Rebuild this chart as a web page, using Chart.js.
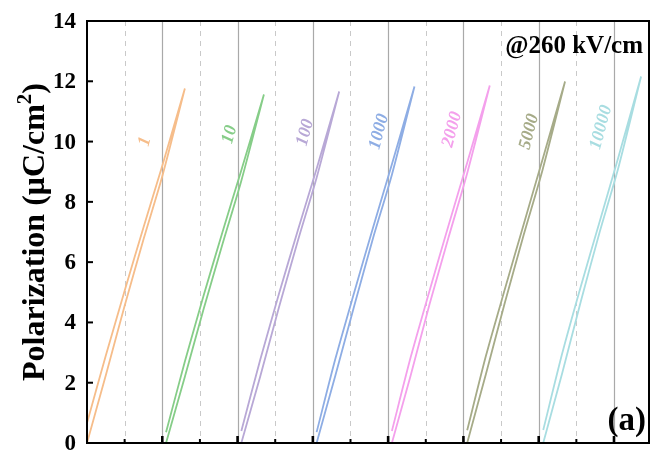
<!DOCTYPE html>
<html>
<head>
<meta charset="utf-8">
<script src="https://cdn.jsdelivr.net/npm/chart.js@4.4.1/dist/chart.umd.min.js"></script>
<style>
  html, body { margin: 0; padding: 0; background: #fff; }
  #wrap { width: 652px; height: 453px; }
</style>
</head>
<body>
<div id="wrap"><canvas id="c" width="652" height="453"></canvas></div>
<script>
// Frequencies (Hz) of the unipolar P-E loops, all measured at 260 kV/cm
const frequencies = ['1', '10', '100', '1000', '2000', '5000', '10000'];
// Horizontal shift (kV/cm) applied to each loop so they sit side by side
const loopShift = [0, 210, 410, 610, 810, 1010, 1212];
// Field points of the charging (rising) and discharging (falling) branches, kV/cm
const fieldUp = [0, 50, 100, 150, 200, 260];
const fieldDown = [260, 200, 150, 100, 50, 0];
// Polarization (uC/cm2) on the rising branch
const polUp = [
  [0, 2.25, 4.55, 6.75, 8.85, 11.76],
  [0, 2.20, 4.45, 6.60, 8.70, 11.56],
  [0, 2.20, 4.50, 6.70, 8.80, 11.66],
  [0, 2.25, 4.55, 6.80, 8.90, 11.83],
  [0, 2.25, 4.60, 6.80, 8.95, 11.86],
  [0, 2.30, 4.65, 6.90, 9.05, 11.99],
  [0, 2.30, 4.70, 7.00, 9.15, 12.16]
];
// Polarization (uC/cm2) on the falling branch
const polDown = [
  [11.76, 9.20, 7.15, 5.05, 2.90, 0.66],
  [11.56, 9.05, 7.00, 4.90, 2.70, 0.36],
  [11.66, 9.10, 7.05, 4.95, 2.75, 0.40],
  [11.83, 9.25, 7.15, 5.00, 2.80, 0.36],
  [11.86, 9.30, 7.20, 5.05, 2.85, 0.40],
  [11.99, 9.40, 7.25, 5.10, 2.90, 0.42],
  [12.16, 9.50, 7.35, 5.20, 2.95, 0.43]
];
// Where each frequency label is written (axis units)
const labelX = [154, 379, 580, 776, 970, 1175, 1366];
const labelY = [10.0, 10.23, 10.3, 10.33, 10.4, 10.33, 10.47];
const yTicks = [0, 2, 4, 6, 8, 10, 12, 14];
const loopColors = ['#F6BD8A', '#86CD88', '#B8A8D6', '#8EADE4', '#F4A0EC', '#A6AB88', '#A8DDE1'];

const SERIF = '"Liberation Serif", "Times New Roman", serif';

const datasets = frequencies.map((f, i) => {
  const pts = [];
  fieldUp.forEach((e, j) => pts.push({ x: loopShift[i] + e, y: polUp[i][j] }));
  fieldDown.forEach((e, j) => pts.push({ x: loopShift[i] + e, y: polDown[i][j] }));
  return {
    label: f + ' Hz',
    data: pts,
    showLine: true,
    borderColor: loopColors[i],
    borderWidth: 1.8,
    pointRadius: 0,
    tension: 0.25,
    fill: false
  };
});

const decor = {
  id: 'decor',
  beforeDatasetsDraw(chart) {
    const { ctx, chartArea: a, scales: { x } } = chart;
    ctx.save();
    for (let v = 100; v < x.max; v += 100) {
      const px = Math.round(x.getPixelForValue(v)) + 0.5;
      ctx.beginPath();
      if (v % 200 === 0) {
        ctx.setLineDash([]);
        ctx.strokeStyle = '#a9a9a9';
        ctx.lineWidth = 1.2;
      } else {
        ctx.setLineDash([5, 5]);
        ctx.strokeStyle = '#c9c9c9';
        ctx.lineWidth = 1;
      }
      ctx.moveTo(px, a.top);
      ctx.lineTo(px, a.bottom);
      ctx.stroke();
    }
    ctx.restore();
  },
  afterDraw(chart) {
    const { ctx, chartArea: a, scales: { x, y } } = chart;
    ctx.save();
    // frame
    ctx.strokeStyle = '#000';
    ctx.lineWidth = 2;
    ctx.strokeRect(a.left, a.top, a.right - a.left, a.bottom - a.top);
    // inward ticks and y tick labels
    ctx.fillStyle = '#000';
    ctx.font = 'bold 23px ' + SERIF;
    ctx.textAlign = 'right';
    ctx.textBaseline = 'middle';
    yTicks.forEach(v => {
      const py = y.getPixelForValue(v);
      ctx.beginPath();
      ctx.moveTo(a.left, py);
      ctx.lineTo(a.left + 6, py);
      ctx.stroke();
      ctx.fillText(String(v), a.left - 11, py + 1);
    });
    for (let v = 100; v < x.max; v += 100) {
      const px = x.getPixelForValue(v);
      const major = v % 200 === 0;
      ctx.lineWidth = major ? 2.6 : 2;
      ctx.beginPath();
      ctx.moveTo(px, a.bottom);
      ctx.lineTo(px, a.bottom - (major ? 7 : 4));
      ctx.stroke();
    }
    // frequency labels along the loops
    frequencies.forEach((f, i) => {
      ctx.save();
      ctx.translate(x.getPixelForValue(labelX[i]), y.getPixelForValue(labelY[i]));
      ctx.rotate(-75 * Math.PI / 180);
      ctx.fillStyle = loopColors[i];
      ctx.font = 'italic bold 18px ' + SERIF;
      ctx.textAlign = 'center';
      ctx.textBaseline = 'middle';
      ctx.fillText(f, 0, 0);
      ctx.restore();
    });
    // annotations
    ctx.fillStyle = '#000';
    ctx.font = 'bold 25px ' + SERIF;
    ctx.textAlign = 'right';
    ctx.textBaseline = 'alphabetic';
    ctx.fillText('@260 kV/cm', a.right - 6, 53);
    ctx.font = 'bold 33px ' + SERIF;
    ctx.fillText('(a)', a.right - 3, a.bottom - 13);
    // y-axis title with superscript
    ctx.save();
    ctx.translate(44, (a.top + a.bottom) / 2);
    ctx.rotate(-Math.PI / 2);
    ctx.textAlign = 'left';
    ctx.textBaseline = 'alphabetic';
    const main = 'Polarization (\u03BCC/cm';
    ctx.font = 'bold 32px ' + SERIF;
    const w1 = ctx.measureText(main).width;
    ctx.font = 'bold 21px ' + SERIF;
    const w2 = ctx.measureText('2').width;
    ctx.font = 'bold 32px ' + SERIF;
    const w3 = ctx.measureText(')').width;
    const start = -(w1 + w2 + w3) / 2;
    ctx.fillText(main, start, 0);
    ctx.font = 'bold 21px ' + SERIF;
    ctx.fillText('2', start + w1, -13);
    ctx.font = 'bold 32px ' + SERIF;
    ctx.fillText(')', start + w1 + w2, 0);
    ctx.restore();
    ctx.restore();
  }
};

new Chart(document.getElementById('c'), {
  type: 'scatter',
  data: { datasets },
  options: {
    responsive: false,
    animation: false,
    events: [],
    layout: { padding: { top: 21, right: 3, left: 0, bottom: 0 } },
    plugins: { legend: { display: false }, tooltip: { enabled: false } },
    scales: {
      x: {
        type: 'linear',
        min: 0,
        max: 1493,
        ticks: { display: false },
        grid: { display: false },
        border: { display: false },
        afterFit(s) { s.height = 10; }
      },
      y: {
        type: 'linear',
        min: 0,
        max: 14,
        ticks: { display: false },
        grid: { display: false },
        border: { display: false },
        afterFit(s) { s.width = 87; }
      }
    }
  },
  plugins: [decor]
});
</script>
</body>
</html>
